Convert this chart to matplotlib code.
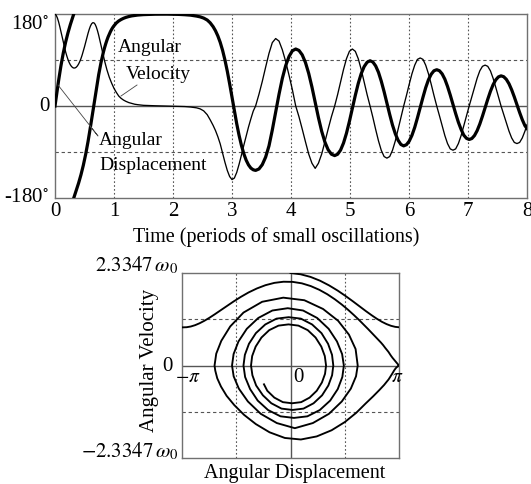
import numpy as np
import matplotlib
matplotlib.use("Agg")
import matplotlib.pyplot as plt

plt.rcParams['font.family'] = ['Liberation Serif', 'DejaVu Serif']
plt.rcParams['mathtext.fontset'] = 'stix'

# time in periods of small oscillations
time_periods = [
    0.00, 0.02, 0.04, 0.06, 0.08, 0.10, 0.12, 0.14, 0.16, 0.18, 0.20, 0.22, 0.24, 0.26, 0.28, 0.30,
    0.318, 0.318, 0.32, 0.34, 0.36, 0.38, 0.40, 0.42, 0.44, 0.46, 0.48, 0.50, 0.52, 0.54, 0.56, 0.58,
    0.60, 0.62, 0.64, 0.66, 0.68, 0.70, 0.72, 0.74, 0.76, 0.78, 0.80, 0.82, 0.84, 0.86, 0.88, 0.90,
    0.92, 0.94, 0.96, 0.98, 1.00, 1.04, 1.08, 1.12, 1.16, 1.20, 1.25, 1.30, 1.35, 1.40, 1.50, 1.60,
    1.70, 1.80, 1.90, 2.00, 2.10, 2.20, 2.30, 2.40, 2.46, 2.52, 2.58, 2.63, 2.68, 2.72, 2.76, 2.80,
    2.84, 2.88, 2.92, 2.96, 3.00, 3.04, 3.08, 3.12, 3.16, 3.20, 3.24, 3.28, 3.32, 3.36, 3.40,
    3.457, 3.513, 3.570, 3.627, 3.683, 3.740, 3.797, 3.853, 3.910, 3.967, 4.023, 4.080,
    4.135, 4.190, 4.245, 4.300, 4.355, 4.410, 4.465, 4.520, 4.575, 4.630, 4.685, 4.740,
    4.79, 4.84, 4.89, 4.94, 4.99, 5.04, 5.09, 5.14, 5.19, 5.24, 5.29, 5.34,
    5.388, 5.435, 5.483, 5.530, 5.578, 5.625, 5.673, 5.720, 5.768, 5.815, 5.863, 5.910,
    5.957, 6.003, 6.050, 6.097, 6.143, 6.190, 6.237, 6.283, 6.330, 6.377, 6.423, 6.470,
    6.516, 6.562, 6.608, 6.653, 6.699, 6.745, 6.791, 6.837, 6.883, 6.928, 6.974, 7.020,
    7.065, 7.110, 7.155, 7.200, 7.245, 7.290, 7.335, 7.380, 7.425, 7.470, 7.515, 7.560,
    7.605, 7.650, 7.695, 7.740, 7.785, 7.830, 7.875, 7.920, 7.965, 8.000,
]

# angular displacement in degrees (wrapped to -180..180)
displacement_deg = [
    0.0, 16.8, 33.2, 49.0, 64.0, 78.2, 91.3, 103.5, 114.7, 125.0, 134.5, 143.3, 151.5, 159.3, 166.6, 173.7,
    180.0, -180.0, -179.3, -172.3, -165.4, -158.2, -150.8, -142.9, -134.6, -125.6, -116.0, -105.6, -94.4, -82.3, -69.5, -55.8,
    -41.5, -26.7, -11.6, 3.7, 18.8, 33.5, 47.6, 61.0, 73.5, 85.1, 95.7, 105.3, 114.0, 121.8, 128.8, 135.1,
    140.6, 145.6, 150.0, 153.8, 157.0, 162.5, 166.4, 169.2, 171.5, 173.3, 175.0, 176.3, 177.2, 177.9, 178.8, 179.3,
    179.6, 179.7, 179.7, 179.55, 179.2, 178.6, 177.7, 175.9, 174.4, 172.0, 168.2, 162.8, 155.2, 147.2, 137.1, 124.6,
    109.1, 90.2, 68.2, 43.5, 17.2, -9.4, -34.7, -57.5, -77.1, -93.3, -106.0, -115.3, -121.5, -124.8, -126.0,
    -123.2, -114.8, -100.0, -78.0, -47.0, -12.0, 23.0, 54.0, 79.0, 97.0, 108.0, 111.5,
    108.7, 100.1, 85.1, 63.8, 37.1, 7.2, -22.7, -49.4, -70.7, -85.7, -94.3, -97.0,
    -94.4, -86.3, -72.5, -53.4, -30.1, -4.6, 20.9, 44.2, 63.3, 77.1, 85.6, 88.5,
    86.0, 78.4, 65.8, 48.6, 28.0, 5.7, -16.6, -37.2, -54.4, -67.0, -75.3, -78.0,
    -75.7, -68.9, -57.4, -41.8, -23.2, -3.0, 17.2, 35.8, 51.4, 62.3, 68.9, 71.0,
    69.0, 62.8, 52.4, 38.3, 21.5, 3.3, -14.9, -31.8, -45.8, -57.0, -63.2, -65.5,
    -63.6, -57.8, -48.2, -35.3, -19.9, -3.3, 13.2, 28.6, 41.6, 51.1, 56.9, 59.0,
    57.3, 52.1, 43.5, 31.7, 17.7, 2.5, -12.7, -26.8, -38.5, -44.0,
]

# angular velocity, scaled so that 180 corresponds to 2.3347 omega_0
velocity_scaled = [
    180.0, 177.5, 172.4, 165.0, 155.9, 145.8, 135.3, 124.9, 115.0, 105.9, 97.9, 90.9, 85.1, 80.6, 77.3, 75.2,
    74.4, 74.4, 74.2, 74.5, 75.9, 78.5, 82.2, 87.0, 92.8, 99.7, 107.4, 115.8, 124.6, 133.6, 142.2, 149.9,
    156.3, 160.8, 163.0, 162.7, 159.9, 154.6, 147.4, 138.7, 128.9, 118.6, 108.2, 98.0, 88.3, 79.2, 70.8, 63.2,
    56.3, 50.2, 44.7, 39.5, 34.5, 26.5, 19.5, 15.0, 11.7, 9.2, 6.7, 5.0, 3.5, 2.6, 1.3, 0.8,
    0.45, 0.15, -0.1, -0.3, -0.6, -1.1, -2.0, -3.6, -5.6, -9.5, -17.0, -27.0, -38.0, -48.0, -60.0, -74.0,
    -92.0, -110.0, -126.0, -138.0, -144.0, -141.0, -130.0, -114.0, -96.0, -77.0, -59.0, -41.0, -25.0, -10.0, 0.0,
    23.0, 48.0, 76.0, 103.0, 124.0, 132.0, 127.0, 110.0, 87.0, 60.0, 32.0, 0.0,
    -21.0, -45.0, -70.0, -94.0, -112.0, -122.0, -112.0, -94.0, -70.0, -45.0, -21.0, 0.0,
    22.3, 46.8, 71.4, 92.5, 107.0, 111.5, 107.0, 92.5, 71.4, 46.8, 22.3, 0.0,
    -22.4, -45.9, -68.3, -86.7, -98.9, -102.0, -98.9, -86.7, -68.3, -45.9, -22.4, 0.0,
    20.7, 42.3, 63.0, 79.9, 91.2, 94.0, 91.2, 79.9, 63.0, 42.3, 20.7, 0.0,
    -19.0, -38.9, -58.0, -73.5, -83.9, -86.5, -83.9, -73.5, -58.0, -38.9, -19.0, 0.0,
    18.4, 36.8, 54.4, 68.8, 77.6, 80.0, 77.6, 68.8, 54.4, 36.8, 18.4, 0.0,
    -16.2, -33.1, -49.2, -62.5, -71.3, -73.5, -71.3, -62.5, -49.2, -36.6,
]

time_ticks = [0, 1, 2, 3, 4, 5, 6, 7, 8]
angle_tick_labels = [r'180$^{\circ}$', '0', r'-180$^{\circ}$']

t = np.array(time_periods, dtype=float)
th = np.array(displacement_deg, dtype=float)
w = np.array(velocity_scaled, dtype=float)

# break the displacement line where it wraps from +180 to -180
jump = np.where(np.abs(np.diff(th)) > 180)[0]
t_b = np.insert(t, jump + 1, np.nan)
th_b = np.insert(th, jump + 1, np.nan)
w_b = np.insert(w, jump + 1, np.nan)

fig = plt.figure(figsize=(5.31, 4.85), dpi=100)
W, H = 531.0, 485.0
frame_col = '#707070'
grid_col = '#555555'

# ---------------- top panel ----------------
ax1 = fig.add_axes([55 / W, 1 - 199 / H, 472 / W, 184 / H])
ax1.set_xlim(0, 8)
ax1.set_ylim(-180, 180)
for x in range(1, 8):
    ax1.axvline(x, color=grid_col, lw=0.8, ls=(0, (1.5, 2.0)), zorder=1)
for y in (-90, 90):
    ax1.axhline(y, color=grid_col, lw=0.8, ls=(0, (3, 2.5)), zorder=1)
ax1.axhline(0, color='#555555', lw=1.0, zorder=1)

ax1.plot(t, w, color='black', lw=0.95, zorder=3)
ax1.plot(t_b, th_b, color='black', lw=2.3, zorder=4)

ax1.set_xticks(time_ticks)
ax1.set_xticklabels([str(v) for v in time_ticks], fontsize=15)
ax1.set_yticks([])
ax1.tick_params(length=0, pad=2)
ax1.text(-0.012, 1.0, angle_tick_labels[0], fontsize=15, ha='right', va='top', transform=ax1.transAxes)
ax1.text(-0.012, 0.5, angle_tick_labels[1], fontsize=15, ha='right', va='center', transform=ax1.transAxes)
ax1.text(-0.012, 0.01, angle_tick_labels[2], fontsize=15, ha='right', va='center', transform=ax1.transAxes)
ax1.text((276.5 - 55) / 472, -0.155, 'Time (periods of small oscillations)', fontsize=14.5,
         ha='center', va='top', transform=ax1.transAxes)
for s in ax1.spines.values():
    s.set_color(frame_col)
    s.set_linewidth(1.0)

# annotations (in pixel-derived data coordinates)
def px(x, y):
    return ((x - 55) / 472 * 8, (107 - y) / 92 * 180)

ax1.text(*px(150, 48), 'Angular', fontsize=14, ha='center', va='center', zorder=5)
ax1.text(*px(158, 75), 'Velocity', fontsize=14, ha='center', va='center', zorder=5)
ax1.plot(*zip(px(137, 86), px(121, 97)), color='#444444', lw=0.6, zorder=5)

ax1.text(*px(99, 141), 'Angular', fontsize=14, ha='left', va='center', zorder=5)
ax1.text(*px(99, 166), 'Displacement', fontsize=14, ha='left', va='center', zorder=5)
ax1.plot(*zip(px(58, 86), px(98, 137), px(90, 127)), color='#444444', lw=0.6, zorder=5)

# ---------------- phase portrait ----------------
ax2 = fig.add_axes([182 / W, 1 - 459 / H, 217 / W, 185 / H])
ax2.set_xlim(-np.pi, np.pi)
ax2.set_ylim(-180, 180)
for x in (-np.pi / 2, np.pi / 2):
    ax2.axvline(x, color=grid_col, lw=0.8, ls=(0, (1.5, 2.0)), zorder=1)
for y in (-90, 90):
    ax2.axhline(y, color=grid_col, lw=0.8, ls=(0, (3, 2.5)), zorder=1)
ax2.axhline(0, color='#555555', lw=1.0, zorder=1)
ax2.axvline(0, color='#555555', lw=1.0, zorder=1)
ax2.plot(np.deg2rad(th_b), w_b, color='black', lw=1.35, zorder=3, solid_joinstyle='round')
ax2.set_xticks([])
ax2.set_yticks([])
for s in ax2.spines.values():
    s.set_color(frame_col)
    s.set_linewidth(1.0)

ax2.text((187.5 - 182) / 217, 0.44, r'$-\pi$', fontsize=14, ha='center', va='center', transform=ax2.transAxes)
ax2.text((397.5 - 182) / 217, 0.44, r'$\pi$', fontsize=14, ha='center', va='center', transform=ax2.transAxes)
ax2.text((298.5 - 182) / 217, 0.44, '0', fontsize=15, ha='center', va='center', transform=ax2.transAxes)
ax2.text(-0.045, 0.5, '0', fontsize=15, ha='right', va='center', transform=ax2.transAxes)
ax2.text(-0.018, 0.99, r'$2.3347\,\omega_0$', fontsize=15, ha='right', va='bottom', transform=ax2.transAxes)
ax2.text(-0.018, -0.018, r'$-2.3347\,\omega_0$', fontsize=15, ha='right', va='bottom', transform=ax2.transAxes)
ax2.text(-0.152, 0.535, 'Angular Velocity', fontsize=15, rotation=90, ha='center', va='center', transform=ax2.transAxes)
ax2.text(0.52, -0.028, 'Angular Displacement', fontsize=14.5, ha='center', va='top', transform=ax2.transAxes)

fig.savefig('out.png', dpi=100)
